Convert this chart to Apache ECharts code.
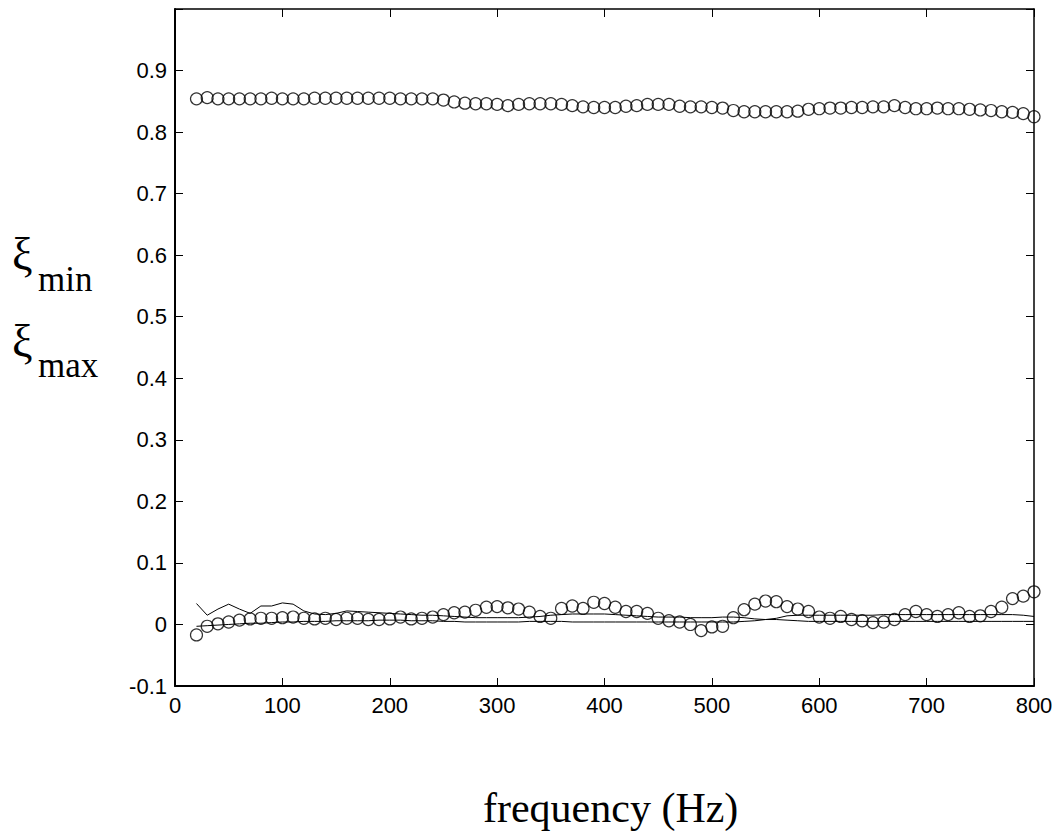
<!DOCTYPE html>
<html>
<head>
<meta charset="utf-8">
<script src="https://cdn.jsdelivr.net/npm/echarts@6/dist/echarts.min.js"></script>
<style>
html,body{margin:0;padding:0;background:#fff;}
#chart{width:1059px;height:838px;}
</style>
</head>
<body>
<div id="chart"></div>
<script>
var frequency = [20,30,40,50,60,70,80,90,100,110,120,130,140,150,160,170,180,190,200,210,220,230,240,250,260,270,280,290,300,310,320,330,340,350,360,370,380,390,400,410,420,430,440,450,460,470,480,490,500,510,520,530,540,550,560,570,580,590,600,610,620,630,640,650,660,670,680,690,700,710,720,730,740,750,760,770,780,790,800];

var upperCircles = [0.854,0.856,0.854,0.854,0.854,0.854,0.854,0.855,0.854,0.854,0.854,0.855,0.855,0.855,0.855,0.855,0.855,0.855,0.855,0.854,0.854,0.854,0.854,0.852,0.849,0.847,0.846,0.846,0.845,0.843,0.845,0.846,0.846,0.846,0.845,0.843,0.841,0.840,0.840,0.840,0.842,0.843,0.845,0.845,0.845,0.842,0.841,0.841,0.840,0.839,0.835,0.833,0.833,0.833,0.833,0.833,0.834,0.837,0.838,0.839,0.839,0.840,0.840,0.841,0.841,0.843,0.840,0.838,0.838,0.839,0.838,0.838,0.837,0.836,0.835,0.833,0.832,0.830,0.825];

var lowerCircles = [-0.017,-0.003,0.001,0.004,0.007,0.009,0.010,0.010,0.011,0.012,0.010,0.009,0.010,0.008,0.010,0.010,0.008,0.008,0.009,0.012,0.009,0.010,0.012,0.016,0.019,0.020,0.023,0.028,0.029,0.027,0.025,0.020,0.013,0.010,0.026,0.030,0.026,0.036,0.034,0.028,0.021,0.021,0.018,0.010,0.006,0.004,0.000,-0.010,-0.004,-0.003,0.011,0.024,0.033,0.038,0.037,0.029,0.025,0.021,0.012,0.010,0.013,0.008,0.006,0.003,0.004,0.008,0.016,0.021,0.016,0.013,0.016,0.019,0.013,0.014,0.021,0.028,0.042,0.046,0.053];

var lineA = [0.034,0.015,0.025,0.033,0.025,0.018,0.030,0.030,0.035,0.033,0.022,0.017,0.016,0.018,0.022,0.021,0.020,0.019,0.018,0.017,0.016,0.015,0.015,0.014,0.013,0.012,0.011,0.011,0.011,0.011,0.011,0.012,0.013,0.015,0.016,0.017,0.017,0.017,0.017,0.016,0.015,0.014,0.013,0.012,0.012,0.012,0.011,0.011,0.011,0.012,0.012,0.011,0.009,0.008,0.010,0.014,0.015,0.015,0.015,0.015,0.015,0.015,0.015,0.015,0.016,0.016,0.016,0.016,0.016,0.016,0.016,0.016,0.016,0.016,0.016,0.016,0.016,0.015,0.013];

var lineB = [-0.003,-0.002,-0.001,0.000,0.001,0.002,0.002,0.003,0.004,0.004,0.005,0.005,0.005,0.006,0.006,0.006,0.006,0.007,0.007,0.007,0.006,0.006,0.006,0.005,0.005,0.004,0.004,0.004,0.004,0.004,0.004,0.005,0.005,0.005,0.005,0.004,0.004,0.004,0.004,0.004,0.004,0.004,0.004,0.004,0.004,0.004,0.004,0.004,0.004,0.004,0.004,0.005,0.006,0.008,0.008,0.007,0.006,0.005,0.005,0.005,0.005,0.005,0.005,0.005,0.005,0.005,0.005,0.005,0.005,0.005,0.005,0.005,0.005,0.005,0.005,0.005,0.005,0.005,0.005];

var xTicks = {min: 0, max: 800, interval: 100};
var yTicks = {min: -0.1, max: 1.0, interval: 0.1};

function pairs(xs, ys){ return xs.map(function(x,i){ return [x, ys[i]]; }); }

var sansFont = '"Liberation Sans", Arial, sans-serif';
var serifFont = '"Liberation Serif", "Times New Roman", serif';

function axisBase(pos, showLabel, lw){
  return {
    type: 'value', position: pos,
    axisLine: {show: true, onZero: false, lineStyle: {color: '#000', width: lw}},
    axisTick: {show: true, inside: true, length: 8, lineStyle: {color: '#000', width: 1}},
    splitLine: {show: false},
    axisLabel: {show: showLabel, color: '#000', fontSize: 22, fontFamily: sansFont, margin: 8}
  };
}

var x0 = axisBase('bottom', true, 2);
Object.assign(x0, xTicks);
var x1 = axisBase('top', false, 1.5);
Object.assign(x1, xTicks);
var y0 = axisBase('left', true, 2);
Object.assign(y0, yTicks);
y0.axisLabel.formatter = function(v){ if (v > 0.95) return ''; return String(Math.round(v*10)/10); };
var y1 = axisBase('right', false, 1.5);
Object.assign(y1, yTicks);

var circleStyle = {color: 'rgba(0,0,0,0)', borderColor: '#000', borderWidth: 1.2};

function serifText(txt, size, left, top){
  return {type: 'text', left: left, top: top,
    style: {text: txt, fontSize: size, fontFamily: serifFont, fontStyle: 'normal', fontWeight: 'normal', fill: '#000'}};
}

var chart = echarts.init(document.getElementById('chart'), null, {renderer: 'svg'});
chart.setOption({
  animation: false,
  backgroundColor: '#fff',
  grid: {left: 175, right: 25, top: 9, bottom: 152, containLabel: false},
  xAxis: [x0, x1],
  yAxis: [y0, y1],
  series: [
    {type: 'line', data: pairs(frequency, lineA), symbol: 'none', lineStyle: {color: '#000', width: 1}, z: 2},
    {type: 'line', data: pairs(frequency, lineB), symbol: 'none', lineStyle: {color: '#000', width: 1}, z: 2},
    {type: 'scatter', data: pairs(frequency, upperCircles), symbol: 'circle', symbolSize: 12, itemStyle: circleStyle, z: 3},
    {type: 'scatter', data: pairs(frequency, lowerCircles), symbol: 'circle', symbolSize: 12, itemStyle: circleStyle, z: 3}
  ],
  graphic: [
    serifText('ξ', 46, 12, 231),
    serifText('min', 35, 38, 262),
    serifText('ξ', 46, 12, 318),
    serifText('max', 35, 38, 348),
    serifText('frequency (Hz)', 42, 483, 787)
  ]
});
</script>
</body>
</html>
